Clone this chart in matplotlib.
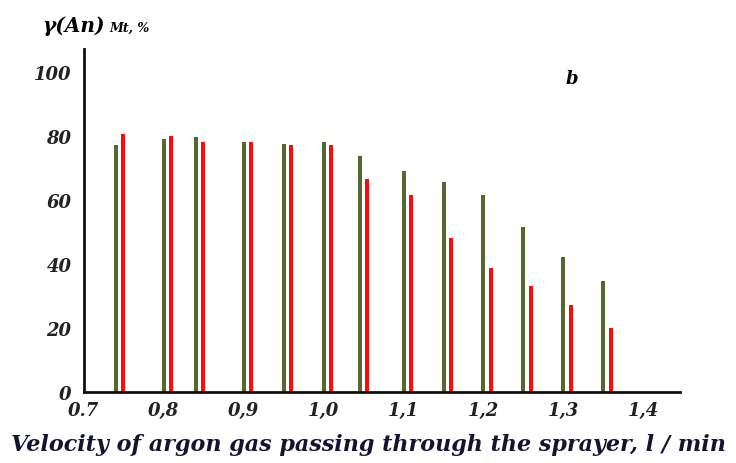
import matplotlib.pyplot as plt
import numpy as np

# argon flow rate, l/min
flow = [0.74, 0.80, 0.84, 0.90, 0.95, 1.00, 1.045, 1.10, 1.15, 1.20, 1.25, 1.30, 1.35]
# yield, %
green_vals = [77, 79, 79.5, 78, 77.5, 78, 73.5, 69, 65.5, 61.5, 51.5, 42, 34.5]
red_vals = [80.5, 80, 78, 78, 77, 77, 66.5, 61.5, 48, 38.5, 33, 27, 20]

xticks = [0.7, 0.8, 0.9, 1.0, 1.1, 1.2, 1.3, 1.4]
xtick_labels = ['0.7', '0,8', '0,9', '1,0', '1,1', '1,2', '1,3', '1,4']
yticks = [0, 20, 40, 60, 80, 100]

plt.rcParams['font.family'] = ['DejaVu Serif']

fig = plt.figure(figsize=(7.36, 4.64), dpi=100)
ax = fig.add_axes([0.114, 0.154, 0.81, 0.738])

x = np.array(flow)
ax.bar(x, green_vals, width=0.005, color='#56682f', align='center')
ax.bar(x + 0.0095, red_vals, width=0.005, color='#ff0a0a', align='center')

ax.set_xlim(0.7, 1.446)
ax.set_ylim(0, 107)

for s in ['top', 'right']:
    ax.spines[s].set_visible(False)
for s in ['left', 'bottom']:
    ax.spines[s].set_linewidth(2)
    ax.spines[s].set_color('#111111')

ax.set_xticks(xticks)
ax.set_xticklabels(xtick_labels, fontsize=13, fontweight='bold', style='italic', color='#222222')
ax.set_yticks(yticks)
ax.set_yticklabels([str(v) for v in yticks], fontsize=13, fontweight='bold', style='italic', color='#222222')
ax.tick_params(axis='both', length=0)
ax.tick_params(axis='x', pad=7)
ax.tick_params(axis='y', pad=9)

ax.text(1.31, 98, 'b', fontsize=13, fontweight='bold', style='italic', ha='center', va='center')

# axis titles
fig.text(0.058, 0.945, 'γ(An)', fontsize=14.5, fontweight='bold', style='italic', va='center', ha='left')
fig.text(0.148, 0.938, 'Mt, %', fontsize=9, fontweight='bold', style='italic', va='center', ha='left')
fig.text(0.5, 0.04, 'Velocity of argon gas passing through the sprayer, l / min',
         fontsize=16, fontweight='bold', style='italic', color='#141432', ha='center', va='center')

fig.savefig('out.png', dpi=100)
